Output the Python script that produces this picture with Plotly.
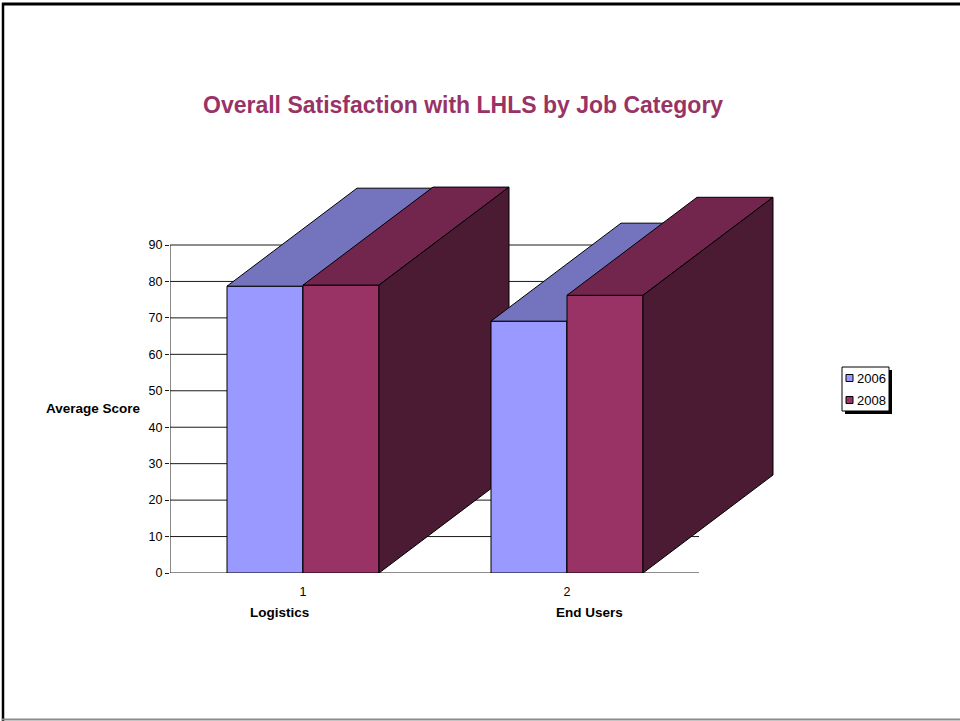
import plotly.graph_objects as go

# ---- data -------------------------------------------------------------
categories = ["Logistics", "End Users"]
category_ticks = ["1", "2"]
series_names = ["2006", "2008"]
scores_2006 = [78.7, 69.1]
scores_2008 = [79.0, 76.2]
y_ticks = [0, 10, 20, 30, 40, 50, 60, 70, 80, 90]

# ---- styling ----------------------------------------------------------
FONT = "Liberation Sans, Arial, sans-serif"
front_colors = {"2006": "#9999FF", "2008": "#993366"}
top_colors = {"2006": "#7474BE", "2008": "#73264D"}
side_colors = {"2006": "#5E5E9E", "2008": "#4B1A33"}

W, H = 960, 721
L, R, T, B = 170, 160, 180, 148          # plot area: x 170..800, y 180..573
PW, PH = W - L - R, H - T - B

X_PER_PX = 1 / 264.0                     # one category step spans 264 px
Y_PER_PX = 90 / 328.0                    # 0..90 spans 328 px
X_MIN = 0.5 - X_PER_PX
X_MAX = X_MIN + PW * X_PER_PX
Y_MAX = PH * Y_PER_PX

bar_w = 76 * X_PER_PX                    # width of one column
depth_dx = 130 * X_PER_PX                # oblique depth offset (right)
depth_dy = 98 * Y_PER_PX                 # oblique depth offset (up)


def px(x):
    return (x - L) / PW


def py(y):
    return (H - B - y) / PH


fig = go.Figure()
z = 0
values = {"2006": scores_2006, "2008": scores_2008}
for ci, cat in enumerate(categories):
    xc = ci + 1
    for si, name in enumerate(series_names):
        h = values[name][ci]
        offset = -bar_w if si == 0 else 0.0
        x0 = xc + offset
        x1 = x0 + bar_w
        # front face
        fig.add_trace(go.Bar(
            x=[xc], y=[h], width=[bar_w], offset=[offset], base=0,
            marker=dict(color=front_colors[name], line=dict(color="black", width=1)),
            showlegend=False, hoverinfo="skip", zorder=z, name=name))
        z += 1
        # top face
        fig.add_trace(go.Scatter(
            x=[x0, x1, x1 + depth_dx, x0 + depth_dx, x0],
            y=[h, h, h + depth_dy, h + depth_dy, h],
            mode="lines", fill="toself", fillcolor=top_colors[name],
            line=dict(color="black", width=1), showlegend=False,
            hoverinfo="skip", zorder=z))
        z += 1
        # right side face
        fig.add_trace(go.Scatter(
            x=[x1, x1, x1 + depth_dx, x1 + depth_dx, x1],
            y=[0, h, h + depth_dy, depth_dy, 0],
            mode="lines", fill="toself", fillcolor=side_colors[name],
            line=dict(color="black", width=1), showlegend=False,
            hoverinfo="skip", zorder=z))
        z += 1

shapes = []
# horizontal gridlines and axis lines
for v in y_ticks:
    shapes.append(dict(type="line", xref="x", yref="y", x0=X_MIN, x1=2.5, y0=v, y1=v,
                       line=dict(color="#1a1a1a", width=1), layer="below"))
shapes.append(dict(type="line", xref="x", yref="y", x0=X_MIN, x1=X_MIN, y0=0, y1=90,
                   line=dict(color="#1a1a1a", width=1), layer="below"))

# legend box with drop shadow
lx0, ly0, lx1, ly1 = 842, 367, 889, 411
shapes.append(dict(type="rect", xref="paper", yref="paper",
                   x0=px(lx0 + 3), x1=px(lx1 + 3), y0=py(ly1 + 3), y1=py(ly0 + 3),
                   fillcolor="black", line=dict(width=0), layer="above"))
shapes.append(dict(type="rect", xref="paper", yref="paper",
                   x0=px(lx0), x1=px(lx1), y0=py(ly1), y1=py(ly0),
                   fillcolor="white", line=dict(color="black", width=1), layer="above"))
legend_rows = [378, 400]
for name, yy in zip(series_names, legend_rows):
    shapes.append(dict(type="rect", xref="paper", yref="paper",
                       x0=px(846), x1=px(853), y0=py(yy + 3.5), y1=py(yy - 3.5),
                       fillcolor=front_colors[name], line=dict(color="black", width=1),
                       layer="above"))

# page frame
shapes.append(dict(type="line", xref="paper", yref="paper", x0=px(2), x1=px(960),
                   y0=py(4), y1=py(4), line=dict(color="black", width=3)))
shapes.append(dict(type="line", xref="paper", yref="paper", x0=px(3), x1=px(3),
                   y0=py(3), y1=py(721), line=dict(color="black", width=2.5)))
shapes.append(dict(type="line", xref="paper", yref="paper", x0=px(2), x1=px(960),
                   y0=py(719.5), y1=py(719.5), line=dict(color="#8a8a8a", width=2)))

annotations = [
    dict(text="<b>Overall Satisfaction with LHLS by Job Category</b>",
         x=px(463), y=py(105), xref="paper", yref="paper", showarrow=False,
         xanchor="center", yanchor="middle",
         font=dict(family=FONT, size=23, color="#993366")),
    dict(text="<b>Average Score</b>", x=px(93), y=py(408), xref="paper", yref="paper",
         showarrow=False, xanchor="center", yanchor="middle",
         font=dict(family=FONT, size=13.5, color="black")),
    dict(text="<b>Logistics</b>", x=px(279), y=py(612), xref="paper", yref="paper",
         showarrow=False, xanchor="center", yanchor="middle",
         font=dict(family=FONT, size=13.5, color="black")),
    dict(text="<b>End Users</b>", x=px(589), y=py(612), xref="paper", yref="paper",
         showarrow=False, xanchor="center", yanchor="middle",
         font=dict(family=FONT, size=13.5, color="black")),
]
for name, yy in zip(series_names, legend_rows):
    annotations.append(dict(text=name, x=px(855), y=py(yy), xref="paper", yref="paper",
                            showarrow=False, xanchor="left", yanchor="middle",
                            font=dict(family=FONT, size=13, color="black")))

fig.update_layout(
    width=W, height=H,
    margin=dict(l=L, r=R, t=T, b=B, pad=0),
    paper_bgcolor="white", plot_bgcolor="white",
    barmode="overlay",
    showlegend=False,
    shapes=shapes,
    annotations=annotations,
    font=dict(family=FONT, size=12, color="black"),
    xaxis=dict(range=[X_MIN, X_MAX], tickvals=[1, 2], ticktext=category_ticks,
               ticks="", showgrid=False, zeroline=False, showline=False,
               ticklabelstandoff=9, tickfont=dict(family=FONT, size=12.5, color="black"),
               fixedrange=True),
    yaxis=dict(range=[0, Y_MAX], tickvals=y_ticks, ticks="outside", ticklen=4,
               tickcolor="#1a1a1a", showgrid=False, zeroline=False, showline=False,
               tickfont=dict(family=FONT, size=12.5, color="black"), fixedrange=True),
)

fig.write_html("out.html")
